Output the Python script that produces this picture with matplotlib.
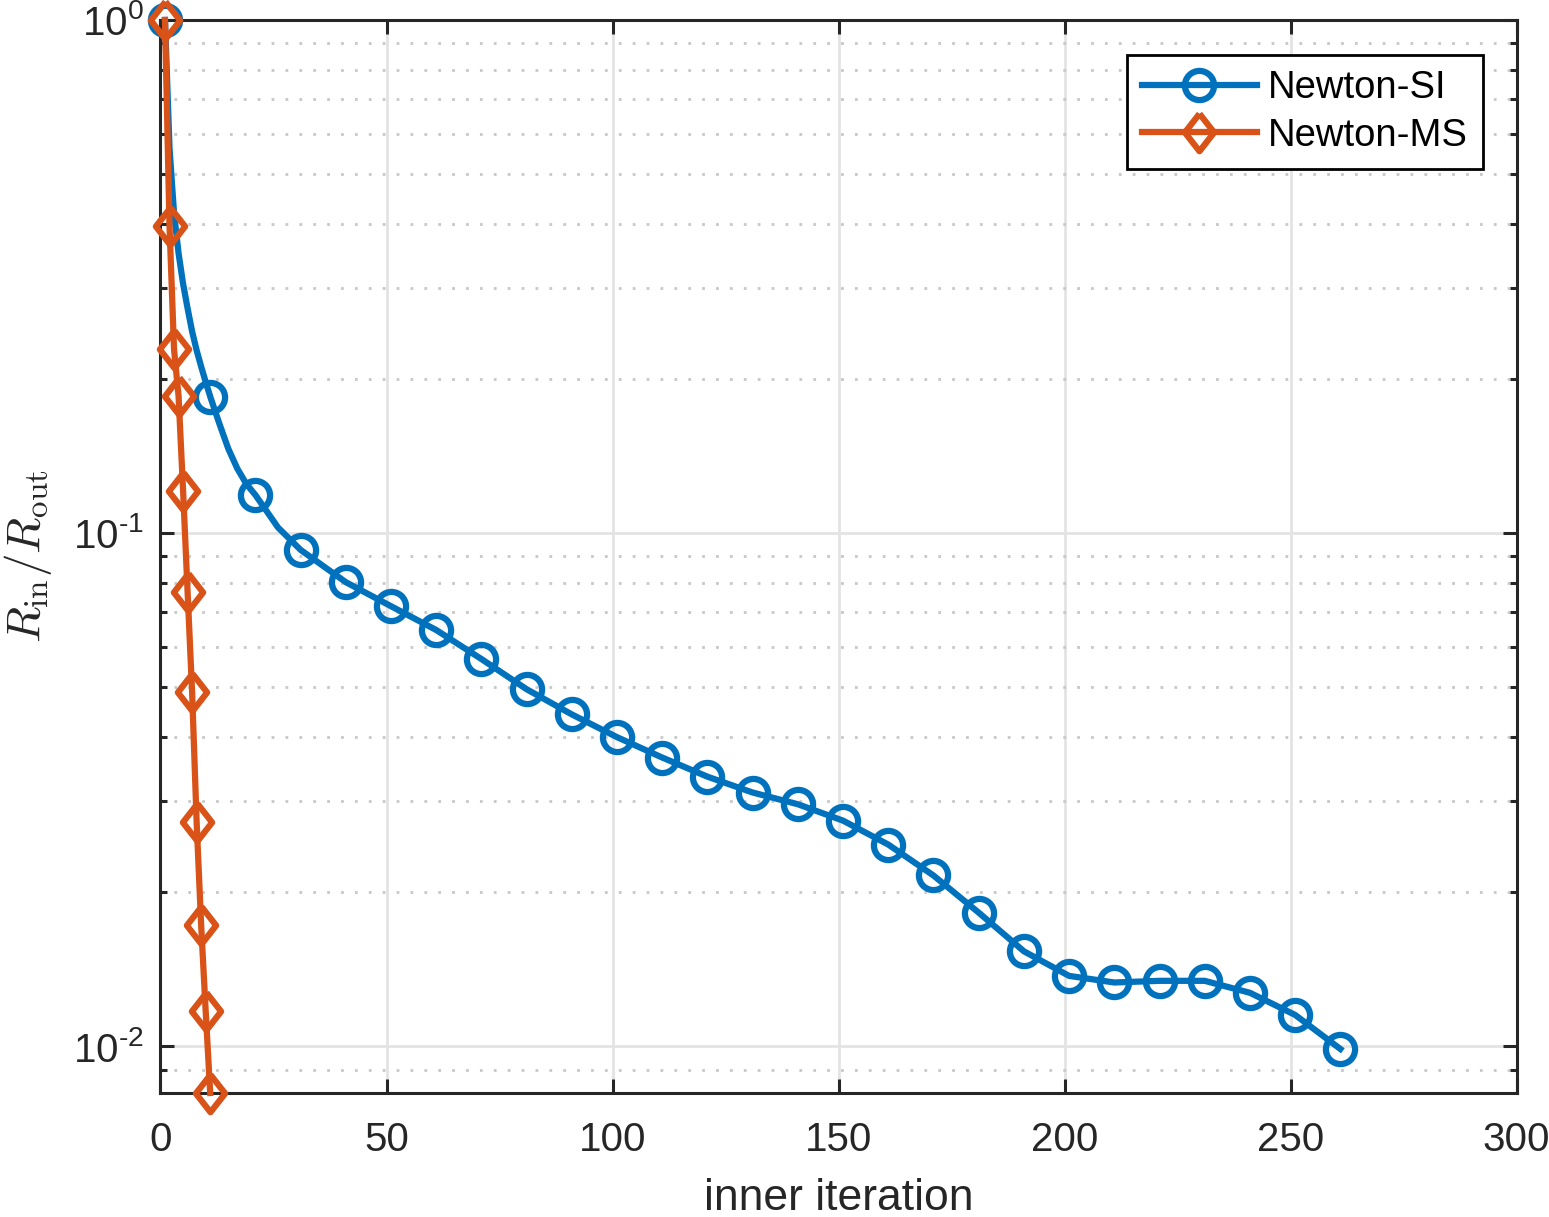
import numpy as np
import matplotlib
matplotlib.use("Agg")
import matplotlib.pyplot as plt
from matplotlib.ticker import LogLocator, NullFormatter, MultipleLocator, FuncFormatter

# Newton-SI: inner iteration vs R_in/R_out (denser early on, markers every 10)
si_iter = [1, 2, 3, 4, 5, 6, 7, 8, 9, 10, 11, 13, 15, 17, 19, 21, 26, 31, 41, 51,
           61, 71, 81, 91, 101, 111, 121, 131, 141, 151, 161, 171, 181, 191,
           201, 211, 221, 231, 241, 251, 261]
si_vals = [1.0, 0.562, 0.420, 0.351, 0.306, 0.274, 0.247, 0.227, 0.211, 0.197,
           0.1845, 0.1636, 0.146, 0.1335, 0.1246, 0.1186, 0.1025, 0.0927,
           0.0802, 0.0720, 0.0647, 0.0568, 0.0496, 0.0443, 0.0400, 0.0365,
           0.0335, 0.0312, 0.0296, 0.0275, 0.0247, 0.0215, 0.0182, 0.0153,
           0.0137, 0.0133, 0.0134, 0.0134, 0.0127, 0.0115, 0.00987]

# Newton-MS
ms_iter = [1, 2, 3, 4, 5, 6, 7, 8, 9, 10, 11]
ms_vals = [1.0, 0.396, 0.228, 0.185, 0.121, 0.0767, 0.0489, 0.0273, 0.0172,
           0.0117, 0.0081]

blue = "#0072BD"
orange = "#D95319"
dark = "#262626"

plt.rcParams["font.family"] = ["Liberation Sans", "DejaVu Sans"]
plt.rcParams["mathtext.fontset"] = "custom"
plt.rcParams["mathtext.rm"] = "Liberation Sans"
plt.rcParams["mathtext.it"] = "Liberation Sans:italic"
plt.rcParams["font.size"] = 29

fig = plt.figure(figsize=(15.49, 12.17), dpi=100)
ax = fig.add_axes([0.1036, 0.1019, 0.8755, 0.8817])

si_marks = [i for i, it in enumerate(si_iter) if (it - 1) % 10 == 0]
diamond = [(0, 1), (0.78, 0), (0, -1), (-0.78, 0), (0, 1)]

ax.plot(si_iter, si_vals, color=blue, lw=4.5, marker="o", markevery=si_marks,
        ms=21, mew=4.5, mfc="none", label="Newton-SI", clip_on=False, zorder=3)
ax.plot(ms_iter, ms_vals, color=orange, lw=4.5, marker=diamond, ms=27, mew=4.5,
        mfc="none", label="Newton-MS", clip_on=False, zorder=4)

ax.set_yscale("log")
ax.set_xlim(0, 300)
ax.set_ylim(min(ms_vals), 1.0)
ax.xaxis.set_major_locator(MultipleLocator(50))
ax.yaxis.set_major_locator(LogLocator(base=10, numticks=10))
ax.yaxis.set_minor_locator(LogLocator(base=10, subs=np.arange(2, 10), numticks=10))
ax.yaxis.set_minor_formatter(NullFormatter())
ax.yaxis.set_major_formatter(
    FuncFormatter(lambda v, p: r"$10^{\text{%d}}$" % int(round(np.log10(v)))))

ax.grid(True, which="major", color="#e3e3e3", lw=2, ls="-")
ax.grid(True, which="minor", axis="y", color="#c8c8c8", lw=2, ls=(0, (1, 4)))
ax.set_axisbelow(True)

for s in ax.spines.values():
    s.set_color(dark)
    s.set_linewidth(2.2)
ax.tick_params(which="both", direction="in", top=True, right=True, colors=dark,
               labelcolor=dark)
ax.tick_params(which="major", length=10, width=2.2)
ax.tick_params(which="minor", length=5, width=2.2)
ax.tick_params(axis="x", which="major", pad=20)
ax.tick_params(axis="y", which="major", pad=12)

ax.set_xlabel("inner iteration", color=dark, fontsize=32, labelpad=14)
ax.set_ylabel(r"$R_{\rm in}/R_{\rm out}$", color=dark, math_fontfamily="cm",
              fontsize=34, labelpad=14)

leg = ax.legend(loc="upper right", bbox_to_anchor=(0.9753, 0.9674),
                borderaxespad=0, fancybox=False, edgecolor="black",
                framealpha=1, handlelength=3.0, handletextpad=0.3,
                labelspacing=0.3, borderpad=0.4, fontsize=27.5)
leg.get_frame().set_linewidth(2)

fig.savefig("out.png", dpi=100)
